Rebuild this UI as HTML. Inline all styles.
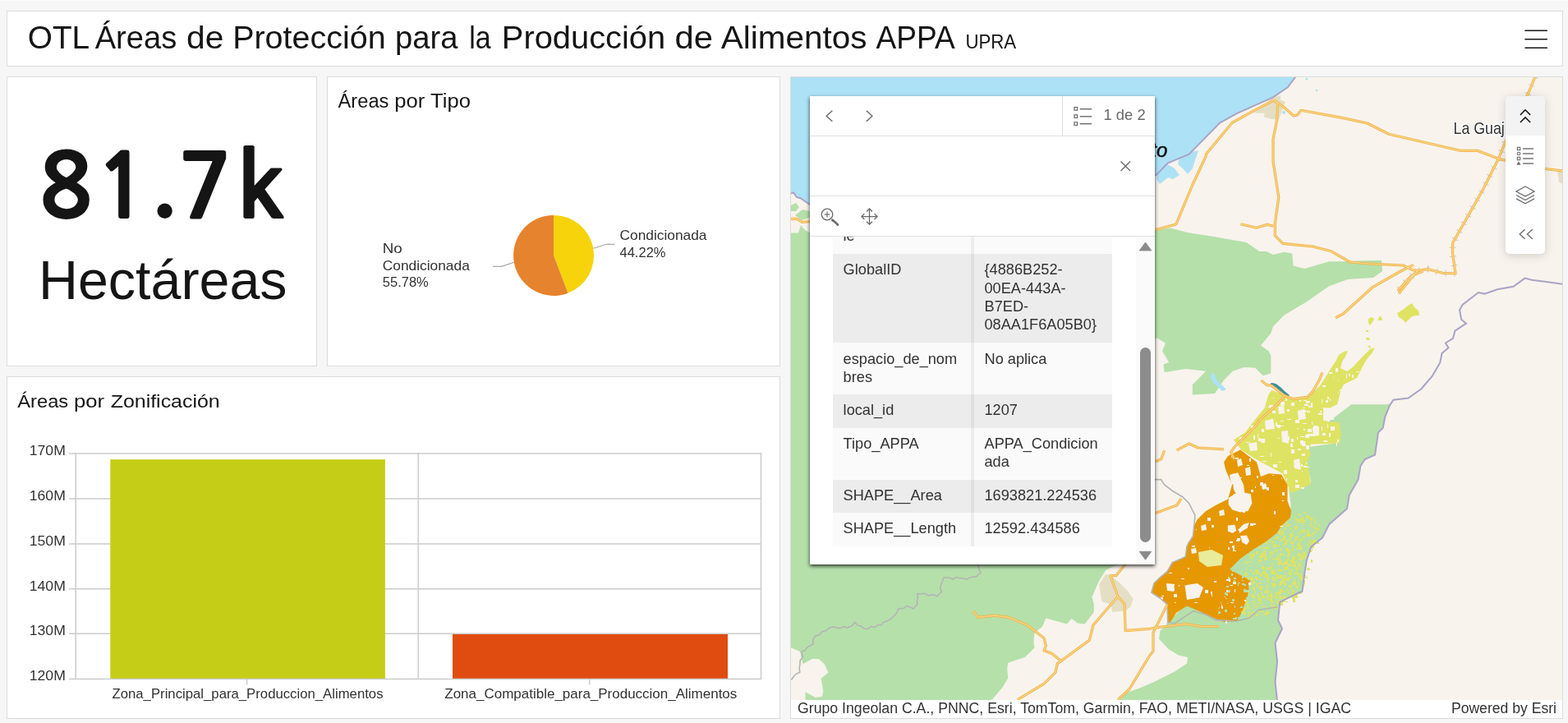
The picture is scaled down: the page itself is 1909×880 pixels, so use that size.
<!DOCTYPE html>
<html lang="es">
<head>
<meta charset="utf-8">
<title>OTL Áreas de Protección para la Producción de Alimentos APPA</title>
<style>
*{box-sizing:border-box;margin:0;padding:0}
html,body{width:1909px;height:880px;overflow:hidden}
body{position:relative;background:#f6f6f6;font-family:"Liberation Sans",Arial,sans-serif;color:#151515}
.topline{position:absolute;left:0;top:0;width:1909px;height:1px;background:#fcfcfc}
.panel{position:absolute;background:#fff;border:1px solid #dcdcdc}
.abs{position:absolute;white-space:nowrap}
#hdr{left:8px;top:13px;width:1895px;height:68px}
#kpi{left:8px;top:93px;width:378px;height:353px}
#pie{left:398px;top:93px;width:552px;height:353px}
#bar{left:8px;top:458px;width:942px;height:417px}
#map{left:962px;top:93px;width:941px;height:782px;overflow:hidden;background:#f8f3ed}
.ttl{font-size:24.6px;color:#151515;line-height:1}
svg text{font-family:"Liberation Sans",Arial,sans-serif}
</style>
</head>
<body>
<div class="topline"></div>

<!-- HEADER -->
<div class="panel" id="hdr"></div>
<svg class="abs" style="left:9px;top:14px" width="1893" height="66" viewBox="9 14 1893 66">
  <text y="59" font-size="39.1" fill="#151515"><tspan x="33.73" textLength="73.99" lengthAdjust="spacingAndGlyphs">OTL</tspan> <tspan x="115.7" textLength="99.53" lengthAdjust="spacingAndGlyphs">Áreas</tspan> <tspan x="226.96" textLength="45.35" lengthAdjust="spacingAndGlyphs">de</tspan> <tspan x="283.17" textLength="186.48" lengthAdjust="spacingAndGlyphs">Protección</tspan> <tspan x="481.04" textLength="76.5" lengthAdjust="spacingAndGlyphs">para</tspan> <tspan x="571.26" textLength="26.4" lengthAdjust="spacingAndGlyphs">la</tspan> <tspan x="610.84" textLength="199.33" lengthAdjust="spacingAndGlyphs">Producción</tspan> <tspan x="821.53" textLength="46.53" lengthAdjust="spacingAndGlyphs">de</tspan> <tspan x="877.8" textLength="177.76" lengthAdjust="spacingAndGlyphs">Alimentos</tspan> <tspan x="1066.6" textLength="96.26" lengthAdjust="spacingAndGlyphs">APPA</tspan></text>
  <text x="1175.4" y="58.7" font-size="23.3" fill="#151515" textLength="61.8" lengthAdjust="spacingAndGlyphs">UPRA</text>
  <g stroke="#151515" stroke-width="1.6" stroke-linecap="round">
    <line x1="1857" y1="37.3" x2="1883.3" y2="37.3"/>
    <line x1="1857" y1="47.7" x2="1883.3" y2="47.7"/>
    <line x1="1857" y1="58.2" x2="1883.3" y2="58.2"/>
  </g>
</svg>

<!-- KPI -->
<div class="panel" id="kpi"></div>
<svg class="abs" style="left:9px;top:94px" width="376" height="351" viewBox="9 94 376 351">
  <text x="47.85 116.1 183.65 217.35 290.05" y="264.5 264.5 257.5 264.5 264.5" font-size="107" font-weight="bold" fill="#151515" stroke="#151515" stroke-width="2" stroke-linejoin="round" style="font-family:NanumGothic,'Liberation Sans',sans-serif">81.7k</text>
  <text x="47" y="363.8" font-size="66" fill="#151515" textLength="302.5" lengthAdjust="spacingAndGlyphs">Hectáreas</text>
</svg>

<!-- PIE -->
<div class="panel" id="pie"></div>
<svg class="abs" style="left:399px;top:94px" width="550" height="351" viewBox="399 94 550 351">
  <text y="130.7" font-size="23" fill="#151515"><tspan x="411.6" textLength="61.81" lengthAdjust="spacingAndGlyphs">Áreas</tspan> <tspan x="480.29" textLength="37.03" lengthAdjust="spacingAndGlyphs">por</tspan> <tspan x="524.0" textLength="48.88" lengthAdjust="spacingAndGlyphs">Tipo</tspan></text>
  <path d="M674.1 310.9 L674.1 261.9 A49 49 0 0 1 691.5 356.7 Z" fill="#f6d30b"/>
  <path d="M674.1 310.9 L691.5 356.7 A49 49 0 1 1 674.1 261.9 Z" fill="#e5832e"/>
  <polyline points="722.3,302.2 738.6,297.3 748.2,297.3" fill="none" stroke="#a6a6a6" stroke-width="1.2"/>
  <polyline points="625.7,319.3 610.5,324.3 600.2,324.3" fill="none" stroke="#a6a6a6" stroke-width="1.2"/>
  <g font-size="16.4" fill="#323232">
    <text x="754.5" y="291.9" textLength="106" lengthAdjust="spacingAndGlyphs">Condicionada</text>
    <text x="754.5" y="312.9" textLength="56" lengthAdjust="spacingAndGlyphs">44.22%</text>
    <text x="465.8" y="307.7" textLength="24" lengthAdjust="spacingAndGlyphs">No</text>
    <text x="465.8" y="328.8" textLength="106" lengthAdjust="spacingAndGlyphs">Condicionada</text>
    <text x="465.8" y="348.8" textLength="56" lengthAdjust="spacingAndGlyphs">55.78%</text>
  </g>
</svg>

<!-- BAR -->
<div class="panel" id="bar"></div>
<svg class="abs" style="left:9px;top:459px" width="940" height="415" viewBox="9 459 940 415">
  <text y="495.7" font-size="22.8" fill="#151515"><tspan x="21.25" textLength="61.96" lengthAdjust="spacingAndGlyphs">Áreas</tspan> <tspan x="89.98" textLength="37.07" lengthAdjust="spacingAndGlyphs">por</tspan> <tspan x="134.7" textLength="133.04" lengthAdjust="spacingAndGlyphs">Zonificación</tspan></text>
  <g stroke="#cccccc" stroke-width="1.5" fill="none">
    <line x1="84" y1="552" x2="926.5" y2="552"/>
    <line x1="84" y1="607" x2="926.5" y2="607"/>
    <line x1="84" y1="662" x2="926.5" y2="662"/>
    <line x1="84" y1="716.8" x2="926.5" y2="716.8"/>
    <line x1="84" y1="771.3" x2="926.5" y2="771.3"/>
    <line x1="92.2" y1="551" x2="92.2" y2="827"/>
    <line x1="509.2" y1="551" x2="509.2" y2="827"/>
    <line x1="926.5" y1="551" x2="926.5" y2="827"/>
  </g>
  <rect x="134.3" y="559.2" width="334.6" height="267.3" fill="#c5cd16"/>
  <rect x="551" y="772" width="335" height="54.5" fill="#e04c10"/>
  <g stroke="#cccccc" stroke-width="1.5" fill="none">
    <line x1="84" y1="826.6" x2="926.5" y2="826.6"/>
    <line x1="300.6" y1="826" x2="300.6" y2="833.5"/>
    <line x1="717.7" y1="826" x2="717.7" y2="833.5"/>
  </g>
  <g font-size="16.3" fill="#323232">
    <text x="35.8" y="554" textLength="44" lengthAdjust="spacingAndGlyphs">170M</text>
    <text x="35.8" y="609" textLength="44" lengthAdjust="spacingAndGlyphs">160M</text>
    <text x="35.8" y="664" textLength="44" lengthAdjust="spacingAndGlyphs">150M</text>
    <text x="35.8" y="718.7" textLength="44" lengthAdjust="spacingAndGlyphs">140M</text>
    <text x="35.8" y="773.3" textLength="44" lengthAdjust="spacingAndGlyphs">130M</text>
    <text x="35.8" y="828" textLength="44" lengthAdjust="spacingAndGlyphs">120M</text>
  </g>
  <g font-size="16.8" fill="#323232">
    <text x="136.5" y="850" textLength="330" lengthAdjust="spacingAndGlyphs">Zona_Principal_para_Produccion_Alimentos</text>
    <text x="541.3" y="850" textLength="356" lengthAdjust="spacingAndGlyphs">Zona_Compatible_para_Produccion_Alimentos</text>
  </g>
</svg>

<!-- MAP -->
<div class="panel" id="map"></div>
<svg class="abs" style="left:963px;top:94px" width="939" height="780" viewBox="963 94 939 780">

<rect x="963" y="94" width="939" height="780" fill="#f8f3ed"/>
<polygon points="963,94 1577,94 1568,106 1550,118.4 1506.8,137.7 1485,149.5 1447.7,187.7 1421.6,198.6 1406.8,213.9 1300,225 986,249 980,245 975,241.5 970,240 966,234.5 963,235.5" fill="#ade1f5"/>
<polygon points="1410,205 1420,199 1430,205 1436,213 1428,218 1422,216 1412,224 1408,218" fill="#ade1f5"/>
<polygon points="1436,190 1450,185 1459,183 1455,195 1452,205 1446,212 1440,205 1434,200" fill="#ade1f5"/>
<circle cx="1591" cy="96" r="1.5" fill="#ade1f5"/><circle cx="1603" cy="110" r="1.3" fill="#ade1f5"/><circle cx="1563" cy="137" r="2" fill="#ade1f5"/>
<polygon points="963,283.6 972,283.6 975,274 980,280 986,283 1200,282 1408,280 1409,279.8 1425,277.5 1445.5,283 1479,288.2 1517.3,295 1533.6,306 1541.8,306 1550,310 1563.6,306.7 1573.2,308.6 1574.5,323.6 1588.2,327 1618.2,318.2 1640,318.2 1681,316.8 1682.2,329 1675.4,333.2 1656.3,334.5 1618.2,348.2 1590.9,367.3 1563.6,383.6 1550,397.3 1547.3,405.4 1535,420.4 1544.5,427.3 1547.3,432.7 1547.3,454.5 1537.7,457.3 1528.2,447.7 1514.5,446.9 1500.9,451.8 1490,462.7 1479,479 1451.8,480.4 1451.8,468.2 1468.2,451.8 1443.6,449 1417.7,453.2 1416.4,443.6 1423.2,441 1415,427.3 1419,417.7 1408.2,411 1400,420 1380,600 1363.3,686.9 1358.9,687.7 1346.2,694 1338.2,706.8 1329.4,726.7 1331.8,735.5 1331.8,745 1320.7,759.4 1312,758.6 1304.8,753 1298.8,759.5 1273.4,752.6 1268.8,763 1259.6,769.9 1258.4,781.4 1259.6,788.3 1248.1,799.8 1227.3,806.8 1226.2,813.7 1227.3,825.2 1220.4,836.7 1208.9,850.5 1205,853 963,853" fill="#b5e0aa"/>
<polygon points="1640,318 1682,317 1683,330 1672,338 1640,340" fill="#b5e0aa"/>
<polygon points="963,788.3 973.8,793 977.7,808.2 988.6,802 996.8,802 1003.7,808.2 1008.4,818.4 999.6,826 1002.3,841 1001,847.7 992.7,849 980.5,842.3 980.5,853 963,853" fill="#f8f3ed"/>
<polygon points="963,250 969,247 973,252 969,257 963,257" fill="#b5e0aa"/><polygon points="968,262 977,255 986,257 986,265 976,268" fill="#b5e0aa"/>
<polygon points="1645.4,492.3 1689,492.3 1691.8,491 1686.3,507.3 1683.6,521 1678,526.4 1674,553.6 1661.8,559 1656.3,567.3 1653.6,583.6 1642.7,602.7 1640,619 1618.2,638.2 1610,654.5 1596.3,665.4 1590.9,681.8 1588.2,698.2 1585.4,720 1580,722 1558.2,732.8 1557.5,740 1556,755 1561,765 1552.5,782.5 1555,805 1552.5,830 1555,853 1362,853 1372,843 1387.5,837.5 1405,830 1430,817.5 1445,807.5 1446,800 1435,797.5 1422.5,790 1411,777.5 1412.5,767.5 1419,762 1421,757.5 1440,740 1470,712 1500,688 1536.4,654.5 1571.8,616.4 1569,594.5 1596.3,586.4 1590.9,564.5 1593.6,544 1631.8,538.6 1618.2,512.7" fill="#b5e0aa"/>
<polygon points="1475,453 1479,456 1481,462 1486,467 1490,471 1493,474 1488,476 1484,472 1478,467 1474,460" fill="#ade1f5"/>
<polygon points="1527,137.7 1541,126.4 1547.7,119.5 1559,116 1559,121.8 1564.8,124 1561.4,133.2 1556.8,145.7 1545.5,144.5 1538.6,142.3 1539.8,137.7" fill="#e4dfc4"/>
<polygon points="1338.2,711.6 1346.2,698.9 1352.5,700.5 1362,708.4 1373.2,719.6 1379.6,729.1 1376.4,738.7 1370,743.5 1354.1,745 1352.5,735.5 1341.4,732.3" fill="#e4dfc4"/>
<rect x="1548" y="695" width="4" height="4" fill="#dfe363"/><rect x="1554" y="698" width="2" height="4" fill="#dfe363"/><rect x="1567" y="725" width="1" height="4" fill="#dfe363"/><rect x="1586" y="712" width="1" height="4" fill="#dfe363"/><rect x="1565" y="642" width="1" height="1" fill="#dfe363"/><rect x="1549" y="679" width="2" height="2" fill="#dfe363"/><rect x="1568" y="687" width="1" height="4" fill="#dfe363"/><rect x="1569" y="675" width="1" height="3" fill="#dfe363"/><rect x="1581" y="674" width="3" height="4" fill="#dfe363"/><rect x="1573" y="650" width="1" height="4" fill="#dfe363"/><rect x="1540" y="714" width="4" height="1" fill="#dfe363"/><rect x="1560" y="648" width="3" height="3" fill="#dfe363"/><rect x="1584" y="645" width="2" height="4" fill="#dfe363"/><rect x="1582" y="676" width="4" height="1" fill="#dfe363"/><rect x="1564" y="697" width="1" height="2" fill="#dfe363"/><rect x="1582" y="665" width="3" height="4" fill="#dfe363"/><rect x="1562" y="654" width="3" height="3" fill="#dfe363"/><rect x="1566" y="639" width="4" height="2" fill="#dfe363"/><rect x="1592" y="646" width="2" height="3" fill="#dfe363"/><rect x="1521" y="746" width="4" height="1" fill="#dfe363"/><rect x="1525" y="714" width="3" height="4" fill="#dfe363"/><rect x="1587" y="700" width="3" height="2" fill="#dfe363"/><rect x="1569" y="702" width="1" height="3" fill="#dfe363"/><rect x="1523" y="741" width="1" height="1" fill="#dfe363"/><rect x="1529" y="680" width="1" height="1" fill="#dfe363"/><rect x="1561" y="639" width="3" height="2" fill="#dfe363"/><rect x="1570" y="712" width="2" height="1" fill="#dfe363"/><rect x="1538" y="663" width="1" height="1" fill="#dfe363"/><rect x="1563" y="632" width="1" height="3" fill="#dfe363"/><rect x="1578" y="713" width="3" height="3" fill="#dfe363"/><rect x="1508" y="733" width="1" height="4" fill="#dfe363"/><rect x="1561" y="703" width="4" height="4" fill="#dfe363"/><rect x="1562" y="701" width="1" height="1" fill="#dfe363"/><rect x="1541" y="718" width="4" height="4" fill="#dfe363"/><rect x="1549" y="692" width="1" height="3" fill="#dfe363"/><rect x="1564" y="685" width="2" height="1" fill="#dfe363"/><rect x="1553" y="702" width="4" height="3" fill="#dfe363"/><rect x="1595" y="670" width="2" height="2" fill="#dfe363"/><rect x="1555" y="720" width="3" height="4" fill="#dfe363"/><rect x="1553" y="653" width="4" height="3" fill="#dfe363"/><rect x="1521" y="678" width="2" height="2" fill="#dfe363"/><rect x="1541" y="698" width="3" height="2" fill="#dfe363"/><rect x="1514" y="687" width="1" height="1" fill="#dfe363"/><rect x="1601" y="658" width="2" height="1" fill="#dfe363"/><rect x="1548" y="658" width="2" height="4" fill="#dfe363"/><rect x="1541" y="690" width="3" height="4" fill="#dfe363"/><rect x="1534" y="730" width="3" height="1" fill="#dfe363"/><rect x="1572" y="659" width="3" height="3" fill="#dfe363"/><rect x="1569" y="695" width="2" height="4" fill="#dfe363"/><rect x="1588" y="653" width="2" height="1" fill="#dfe363"/><rect x="1604" y="637" width="1" height="3" fill="#dfe363"/><rect x="1521" y="684" width="2" height="1" fill="#dfe363"/><rect x="1580" y="692" width="1" height="2" fill="#dfe363"/><rect x="1524" y="723" width="2" height="4" fill="#dfe363"/><rect x="1524" y="675" width="4" height="2" fill="#dfe363"/><rect x="1548" y="648" width="1" height="4" fill="#dfe363"/><rect x="1558" y="707" width="3" height="4" fill="#dfe363"/><rect x="1510" y="735" width="1" height="2" fill="#dfe363"/><rect x="1526" y="673" width="1" height="3" fill="#dfe363"/><rect x="1557" y="725" width="3" height="3" fill="#dfe363"/><rect x="1547" y="694" width="3" height="4" fill="#dfe363"/><rect x="1597" y="650" width="1" height="4" fill="#dfe363"/><rect x="1585" y="644" width="3" height="2" fill="#dfe363"/><rect x="1572" y="679" width="4" height="1" fill="#dfe363"/><rect x="1580" y="679" width="3" height="2" fill="#dfe363"/><rect x="1555" y="732" width="3" height="3" fill="#dfe363"/><rect x="1558" y="657" width="4" height="2" fill="#dfe363"/><rect x="1605" y="638" width="1" height="2" fill="#dfe363"/><rect x="1598" y="657" width="4" height="4" fill="#dfe363"/><rect x="1551" y="663" width="2" height="4" fill="#dfe363"/><rect x="1514" y="723" width="1" height="1" fill="#dfe363"/><rect x="1573" y="664" width="3" height="2" fill="#dfe363"/><rect x="1566" y="636" width="1" height="3" fill="#dfe363"/><rect x="1576" y="713" width="4" height="1" fill="#dfe363"/><rect x="1540" y="676" width="2" height="2" fill="#dfe363"/><rect x="1592" y="691" width="2" height="2" fill="#dfe363"/><rect x="1590" y="702" width="2" height="2" fill="#dfe363"/><rect x="1521" y="723" width="2" height="1" fill="#dfe363"/><rect x="1577" y="656" width="1" height="4" fill="#dfe363"/><rect x="1588" y="677" width="2" height="2" fill="#dfe363"/><rect x="1543" y="711" width="1" height="1" fill="#dfe363"/><rect x="1521" y="711" width="3" height="1" fill="#dfe363"/><rect x="1575" y="705" width="3" height="2" fill="#dfe363"/><rect x="1585" y="685" width="1" height="1" fill="#dfe363"/><rect x="1581" y="702" width="4" height="2" fill="#dfe363"/><rect x="1530" y="709" width="1" height="2" fill="#dfe363"/><rect x="1581" y="664" width="4" height="4" fill="#dfe363"/><rect x="1555" y="678" width="3" height="1" fill="#dfe363"/><rect x="1521" y="675" width="3" height="3" fill="#dfe363"/><rect x="1543" y="647" width="2" height="1" fill="#dfe363"/><rect x="1567" y="675" width="2" height="3" fill="#dfe363"/><rect x="1585" y="656" width="1" height="2" fill="#dfe363"/><rect x="1586" y="675" width="3" height="3" fill="#dfe363"/><rect x="1581" y="721" width="4" height="2" fill="#dfe363"/><rect x="1577" y="631" width="3" height="3" fill="#dfe363"/><rect x="1538" y="705" width="1" height="2" fill="#dfe363"/><rect x="1529" y="747" width="3" height="3" fill="#dfe363"/><rect x="1523" y="675" width="2" height="1" fill="#dfe363"/><rect x="1568" y="713" width="4" height="1" fill="#dfe363"/><rect x="1525" y="680" width="1" height="2" fill="#dfe363"/><rect x="1536" y="692" width="4" height="1" fill="#dfe363"/><rect x="1568" y="727" width="1" height="1" fill="#dfe363"/><rect x="1541" y="744" width="4" height="4" fill="#dfe363"/><rect x="1557" y="700" width="4" height="4" fill="#dfe363"/><rect x="1545" y="690" width="3" height="3" fill="#dfe363"/><rect x="1556" y="685" width="3" height="3" fill="#dfe363"/><rect x="1570" y="719" width="1" height="1" fill="#dfe363"/><rect x="1582" y="698" width="2" height="4" fill="#dfe363"/><rect x="1580" y="673" width="3" height="4" fill="#dfe363"/><rect x="1600" y="632" width="2" height="4" fill="#dfe363"/><rect x="1576" y="655" width="2" height="1" fill="#dfe363"/><rect x="1577" y="683" width="2" height="1" fill="#dfe363"/><rect x="1513" y="734" width="3" height="2" fill="#dfe363"/><rect x="1571" y="681" width="3" height="4" fill="#dfe363"/><rect x="1539" y="719" width="2" height="3" fill="#dfe363"/><rect x="1578" y="653" width="1" height="3" fill="#dfe363"/><rect x="1583" y="703" width="3" height="3" fill="#dfe363"/><rect x="1529" y="711" width="2" height="3" fill="#dfe363"/><rect x="1580" y="647" width="2" height="2" fill="#dfe363"/><rect x="1593" y="627" width="1" height="1" fill="#dfe363"/><rect x="1529" y="677" width="1" height="1" fill="#dfe363"/><rect x="1538" y="666" width="4" height="2" fill="#dfe363"/><rect x="1589" y="632" width="1" height="4" fill="#dfe363"/><rect x="1586" y="703" width="2" height="4" fill="#dfe363"/><rect x="1545" y="656" width="2" height="3" fill="#dfe363"/><rect x="1516" y="731" width="3" height="3" fill="#dfe363"/><rect x="1558" y="719" width="2" height="4" fill="#dfe363"/><rect x="1569" y="697" width="4" height="3" fill="#dfe363"/><rect x="1560" y="685" width="4" height="3" fill="#dfe363"/><rect x="1587" y="623" width="3" height="2" fill="#dfe363"/><rect x="1574" y="686" width="3" height="3" fill="#dfe363"/><rect x="1593" y="650" width="3" height="3" fill="#dfe363"/><rect x="1596" y="664" width="4" height="3" fill="#dfe363"/><rect x="1546" y="726" width="3" height="4" fill="#dfe363"/><rect x="1534" y="674" width="2" height="1" fill="#dfe363"/><rect x="1538" y="670" width="3" height="4" fill="#dfe363"/><rect x="1562" y="725" width="3" height="4" fill="#dfe363"/><rect x="1557" y="731" width="2" height="2" fill="#dfe363"/><rect x="1502" y="731" width="4" height="1" fill="#dfe363"/><rect x="1562" y="662" width="1" height="3" fill="#dfe363"/><rect x="1509" y="718" width="3" height="1" fill="#dfe363"/><rect x="1510" y="728" width="4" height="2" fill="#dfe363"/><rect x="1575" y="686" width="3" height="4" fill="#dfe363"/><rect x="1542" y="666" width="3" height="2" fill="#dfe363"/><rect x="1552" y="692" width="1" height="1" fill="#dfe363"/><rect x="1544" y="729" width="3" height="1" fill="#dfe363"/><rect x="1568" y="690" width="1" height="1" fill="#dfe363"/><rect x="1545" y="677" width="2" height="2" fill="#dfe363"/><rect x="1522" y="677" width="3" height="3" fill="#dfe363"/><rect x="1569" y="723" width="2" height="1" fill="#dfe363"/><rect x="1551" y="726" width="3" height="1" fill="#dfe363"/><rect x="1562" y="700" width="4" height="2" fill="#dfe363"/><rect x="1547" y="738" width="4" height="2" fill="#dfe363"/><rect x="1558" y="733" width="4" height="4" fill="#dfe363"/><rect x="1597" y="666" width="1" height="4" fill="#dfe363"/><rect x="1591" y="674" width="2" height="2" fill="#dfe363"/><rect x="1585" y="672" width="3" height="1" fill="#dfe363"/><rect x="1570" y="653" width="1" height="4" fill="#dfe363"/><rect x="1596" y="681" width="2" height="4" fill="#dfe363"/><rect x="1564" y="642" width="2" height="3" fill="#dfe363"/><rect x="1515" y="740" width="2" height="3" fill="#dfe363"/><rect x="1561" y="645" width="2" height="2" fill="#dfe363"/><rect x="1587" y="633" width="3" height="1" fill="#dfe363"/><rect x="1509" y="719" width="3" height="1" fill="#dfe363"/><rect x="1584" y="676" width="1" height="4" fill="#dfe363"/><rect x="1522" y="693" width="4" height="2" fill="#dfe363"/><rect x="1534" y="675" width="3" height="4" fill="#dfe363"/><rect x="1571" y="631" width="1" height="2" fill="#dfe363"/><rect x="1588" y="707" width="1" height="4" fill="#dfe363"/><rect x="1575" y="684" width="3" height="1" fill="#dfe363"/><rect x="1522" y="702" width="3" height="4" fill="#dfe363"/><rect x="1559" y="633" width="2" height="2" fill="#dfe363"/><rect x="1533" y="658" width="4" height="3" fill="#dfe363"/><rect x="1547" y="672" width="1" height="2" fill="#dfe363"/><rect x="1566" y="639" width="2" height="2" fill="#dfe363"/><rect x="1549" y="714" width="1" height="2" fill="#dfe363"/><rect x="1546" y="722" width="3" height="4" fill="#dfe363"/><rect x="1598" y="640" width="2" height="2" fill="#dfe363"/><rect x="1587" y="672" width="3" height="4" fill="#dfe363"/><rect x="1566" y="717" width="3" height="2" fill="#dfe363"/><rect x="1570" y="701" width="1" height="3" fill="#dfe363"/><rect x="1535" y="666" width="4" height="1" fill="#dfe363"/><rect x="1559" y="649" width="3" height="3" fill="#dfe363"/><rect x="1587" y="701" width="2" height="3" fill="#dfe363"/><rect x="1558" y="668" width="2" height="2" fill="#dfe363"/><rect x="1521" y="745" width="2" height="1" fill="#dfe363"/><rect x="1544" y="665" width="1" height="3" fill="#dfe363"/><rect x="1528" y="737" width="4" height="2" fill="#dfe363"/><rect x="1525" y="696" width="1" height="3" fill="#dfe363"/><rect x="1518" y="719" width="3" height="2" fill="#dfe363"/><rect x="1513" y="729" width="3" height="3" fill="#dfe363"/><rect x="1526" y="697" width="2" height="2" fill="#dfe363"/><rect x="1563" y="727" width="4" height="1" fill="#dfe363"/><rect x="1543" y="724" width="2" height="3" fill="#dfe363"/><rect x="1568" y="721" width="2" height="2" fill="#dfe363"/><rect x="1556" y="637" width="4" height="2" fill="#dfe363"/><rect x="1526" y="743" width="1" height="1" fill="#dfe363"/><rect x="1576" y="724" width="4" height="4" fill="#dfe363"/><rect x="1564" y="683" width="4" height="4" fill="#dfe363"/><rect x="1580" y="685" width="4" height="4" fill="#dfe363"/><rect x="1587" y="637" width="1" height="3" fill="#dfe363"/><rect x="1556" y="678" width="1" height="3" fill="#dfe363"/><rect x="1596" y="660" width="4" height="4" fill="#dfe363"/><rect x="1563" y="720" width="3" height="1" fill="#dfe363"/><rect x="1526" y="732" width="2" height="4" fill="#dfe363"/><rect x="1511" y="740" width="3" height="4" fill="#dfe363"/><rect x="1592" y="670" width="4" height="2" fill="#dfe363"/><rect x="1524" y="719" width="1" height="1" fill="#dfe363"/><rect x="1510" y="725" width="1" height="4" fill="#dfe363"/><rect x="1532" y="664" width="1" height="4" fill="#dfe363"/><rect x="1542" y="668" width="2" height="1" fill="#dfe363"/><rect x="1532" y="681" width="3" height="3" fill="#dfe363"/><rect x="1593" y="648" width="1" height="2" fill="#dfe363"/><rect x="1533" y="734" width="4" height="1" fill="#dfe363"/><rect x="1518" y="736" width="2" height="2" fill="#dfe363"/><rect x="1520" y="736" width="1" height="1" fill="#dfe363"/><rect x="1532" y="728" width="3" height="4" fill="#dfe363"/><rect x="1576" y="640" width="4" height="4" fill="#dfe363"/><rect x="1533" y="714" width="2" height="3" fill="#dfe363"/><rect x="1570" y="725" width="3" height="1" fill="#dfe363"/><rect x="1563" y="652" width="3" height="2" fill="#dfe363"/><rect x="1571" y="658" width="1" height="4" fill="#dfe363"/><rect x="1556" y="691" width="1" height="1" fill="#dfe363"/><rect x="1564" y="659" width="3" height="4" fill="#dfe363"/><rect x="1585" y="633" width="3" height="2" fill="#dfe363"/><rect x="1558" y="646" width="2" height="1" fill="#dfe363"/><rect x="1595" y="630" width="1" height="3" fill="#dfe363"/><rect x="1534" y="685" width="1" height="3" fill="#dfe363"/><rect x="1554" y="732" width="2" height="2" fill="#dfe363"/><rect x="1571" y="693" width="3" height="2" fill="#dfe363"/><rect x="1528" y="693" width="4" height="3" fill="#dfe363"/><rect x="1576" y="696" width="2" height="3" fill="#dfe363"/><rect x="1553" y="679" width="4" height="3" fill="#dfe363"/><rect x="1591" y="626" width="1" height="2" fill="#dfe363"/><rect x="1560" y="693" width="2" height="2" fill="#dfe363"/><rect x="1574" y="729" width="3" height="4" fill="#dfe363"/><rect x="1509" y="729" width="2" height="4" fill="#dfe363"/><rect x="1583" y="630" width="4" height="4" fill="#dfe363"/><rect x="1552" y="721" width="2" height="2" fill="#dfe363"/><rect x="1579" y="690" width="1" height="1" fill="#dfe363"/><rect x="1526" y="738" width="2" height="1" fill="#dfe363"/><rect x="1542" y="661" width="4" height="1" fill="#dfe363"/><rect x="1565" y="660" width="1" height="2" fill="#dfe363"/><rect x="1578" y="696" width="2" height="4" fill="#dfe363"/><rect x="1526" y="725" width="2" height="4" fill="#dfe363"/><rect x="1550" y="662" width="4" height="4" fill="#dfe363"/><rect x="1591" y="649" width="4" height="4" fill="#dfe363"/><rect x="1508" y="712" width="3" height="3" fill="#dfe363"/><rect x="1566" y="689" width="3" height="4" fill="#dfe363"/><rect x="1560" y="706" width="2" height="3" fill="#dfe363"/><rect x="1577" y="723" width="2" height="2" fill="#dfe363"/><rect x="1594" y="664" width="1" height="3" fill="#dfe363"/><rect x="1542" y="653" width="1" height="2" fill="#dfe363"/><rect x="1516" y="699" width="1" height="2" fill="#dfe363"/><rect x="1533" y="677" width="2" height="3" fill="#dfe363"/><rect x="1533" y="681" width="4" height="2" fill="#dfe363"/><rect x="1557" y="680" width="2" height="4" fill="#dfe363"/><rect x="1555" y="668" width="1" height="3" fill="#dfe363"/><rect x="1539" y="701" width="2" height="1" fill="#dfe363"/><rect x="1581" y="719" width="1" height="2" fill="#dfe363"/><rect x="1559" y="668" width="1" height="3" fill="#dfe363"/><rect x="1525" y="704" width="1" height="4" fill="#dfe363"/><rect x="1530" y="713" width="2" height="2" fill="#dfe363"/><rect x="1598" y="648" width="2" height="3" fill="#dfe363"/><rect x="1571" y="653" width="1" height="3" fill="#dfe363"/><rect x="1551" y="655" width="3" height="1" fill="#dfe363"/><rect x="1596" y="638" width="1" height="4" fill="#dfe363"/><rect x="1529" y="671" width="3" height="4" fill="#dfe363"/><rect x="1534" y="671" width="3" height="3" fill="#dfe363"/><rect x="1568" y="672" width="3" height="3" fill="#dfe363"/><rect x="1503" y="714" width="2" height="1" fill="#dfe363"/><rect x="1566" y="703" width="4" height="4" fill="#dfe363"/><rect x="1549" y="680" width="4" height="1" fill="#dfe363"/><rect x="1585" y="711" width="3" height="3" fill="#dfe363"/><rect x="1552" y="683" width="1" height="2" fill="#dfe363"/><rect x="1564" y="657" width="3" height="2" fill="#dfe363"/><rect x="1558" y="673" width="2" height="4" fill="#dfe363"/><rect x="1508" y="729" width="3" height="3" fill="#dfe363"/><rect x="1537" y="737" width="3" height="2" fill="#dfe363"/><rect x="1574" y="711" width="2" height="2" fill="#dfe363"/><rect x="1517" y="703" width="4" height="3" fill="#dfe363"/><rect x="1539" y="659" width="4" height="2" fill="#dfe363"/><rect x="1569" y="669" width="2" height="2" fill="#dfe363"/><rect x="1533" y="732" width="4" height="1" fill="#dfe363"/><rect x="1517" y="735" width="4" height="1" fill="#dfe363"/><rect x="1537" y="674" width="4" height="3" fill="#dfe363"/><rect x="1576" y="655" width="3" height="2" fill="#dfe363"/><rect x="1535" y="721" width="2" height="4" fill="#dfe363"/><rect x="1568" y="638" width="3" height="2" fill="#dfe363"/><rect x="1571" y="652" width="2" height="1" fill="#dfe363"/><rect x="1550" y="712" width="2" height="3" fill="#dfe363"/><rect x="1573" y="677" width="4" height="4" fill="#dfe363"/><rect x="1505" y="715" width="1" height="1" fill="#dfe363"/><rect x="1557" y="726" width="4" height="3" fill="#dfe363"/><rect x="1591" y="644" width="1" height="3" fill="#dfe363"/><rect x="1547" y="735" width="3" height="2" fill="#dfe363"/><rect x="1542" y="702" width="2" height="4" fill="#dfe363"/><rect x="1572" y="650" width="3" height="2" fill="#dfe363"/><rect x="1547" y="730" width="3" height="4" fill="#dfe363"/><rect x="1594" y="657" width="2" height="3" fill="#dfe363"/><rect x="1566" y="658" width="2" height="1" fill="#dfe363"/><rect x="1551" y="670" width="3" height="1" fill="#dfe363"/><rect x="1581" y="709" width="1" height="2" fill="#dfe363"/><rect x="1537" y="695" width="1" height="2" fill="#dfe363"/><rect x="1558" y="707" width="3" height="3" fill="#dfe363"/><rect x="1526" y="727" width="1" height="2" fill="#dfe363"/><rect x="1557" y="710" width="3" height="3" fill="#dfe363"/><rect x="1594" y="630" width="3" height="1" fill="#dfe363"/><rect x="1581" y="656" width="2" height="4" fill="#dfe363"/><rect x="1542" y="726" width="1" height="4" fill="#dfe363"/><rect x="1543" y="714" width="3" height="1" fill="#dfe363"/><rect x="1534" y="716" width="3" height="3" fill="#dfe363"/><rect x="1566" y="680" width="3" height="3" fill="#dfe363"/><rect x="1507" y="707" width="1" height="3" fill="#dfe363"/><rect x="1535" y="718" width="2" height="1" fill="#dfe363"/><rect x="1579" y="693" width="2" height="2" fill="#dfe363"/><rect x="1581" y="625" width="2" height="3" fill="#dfe363"/><rect x="1507" y="699" width="3" height="4" fill="#dfe363"/><rect x="1553" y="723" width="2" height="3" fill="#dfe363"/><rect x="1582" y="690" width="1" height="2" fill="#dfe363"/><rect x="1577" y="708" width="1" height="2" fill="#dfe363"/><rect x="1565" y="667" width="4" height="4" fill="#dfe363"/><rect x="1554" y="696" width="1" height="1" fill="#dfe363"/><rect x="1548" y="709" width="4" height="4" fill="#dfe363"/><rect x="1553" y="671" width="1" height="1" fill="#dfe363"/><rect x="1556" y="681" width="3" height="1" fill="#dfe363"/><rect x="1516" y="683" width="3" height="3" fill="#dfe363"/><rect x="1520" y="683" width="4" height="1" fill="#dfe363"/><rect x="1592" y="638" width="4" height="1" fill="#dfe363"/><rect x="1525" y="731" width="2" height="1" fill="#dfe363"/><rect x="1585" y="689" width="3" height="1" fill="#dfe363"/><rect x="1536" y="689" width="3" height="4" fill="#dfe363"/><rect x="1545" y="686" width="2" height="1" fill="#dfe363"/><rect x="1506" y="735" width="1" height="2" fill="#dfe363"/><rect x="1586" y="645" width="3" height="1" fill="#dfe363"/><rect x="1544" y="702" width="1" height="4" fill="#dfe363"/><rect x="1596" y="631" width="2" height="3" fill="#dfe363"/><rect x="1521" y="709" width="4" height="4" fill="#dfe363"/><rect x="1533" y="704" width="3" height="2" fill="#dfe363"/><rect x="1574" y="645" width="2" height="2" fill="#dfe363"/><rect x="1574" y="683" width="2" height="3" fill="#dfe363"/><rect x="1512" y="744" width="3" height="3" fill="#dfe363"/><rect x="1573" y="718" width="3" height="3" fill="#dfe363"/><rect x="1582" y="648" width="1" height="3" fill="#dfe363"/><rect x="1545" y="729" width="4" height="3" fill="#dfe363"/><rect x="1548" y="688" width="1" height="3" fill="#dfe363"/><rect x="1554" y="676" width="4" height="1" fill="#dfe363"/><rect x="1530" y="735" width="3" height="1" fill="#dfe363"/><rect x="1572" y="681" width="4" height="4" fill="#dfe363"/><rect x="1521" y="676" width="2" height="4" fill="#dfe363"/><rect x="1568" y="670" width="3" height="3" fill="#dfe363"/><rect x="1562" y="708" width="3" height="3" fill="#dfe363"/><rect x="1540" y="699" width="3" height="4" fill="#dfe363"/><rect x="1545" y="666" width="1" height="1" fill="#dfe363"/><rect x="1548" y="649" width="3" height="1" fill="#dfe363"/><rect x="1540" y="716" width="3" height="1" fill="#dfe363"/><rect x="1571" y="642" width="1" height="3" fill="#dfe363"/><rect x="1518" y="688" width="4" height="1" fill="#dfe363"/><rect x="1588" y="706" width="1" height="1" fill="#dfe363"/><rect x="1543" y="707" width="2" height="2" fill="#dfe363"/><rect x="1553" y="730" width="4" height="1" fill="#dfe363"/><rect x="1579" y="633" width="2" height="3" fill="#dfe363"/><rect x="1550" y="737" width="4" height="4" fill="#dfe363"/><rect x="1539" y="730" width="1" height="1" fill="#dfe363"/><rect x="1537" y="692" width="1" height="1" fill="#dfe363"/><rect x="1532" y="688" width="1" height="1" fill="#dfe363"/><rect x="1560" y="639" width="1" height="3" fill="#dfe363"/><rect x="1531" y="723" width="2" height="4" fill="#dfe363"/><rect x="1562" y="644" width="1" height="4" fill="#dfe363"/><rect x="1515" y="739" width="2" height="2" fill="#dfe363"/><rect x="1543" y="702" width="1" height="4" fill="#dfe363"/><rect x="1587" y="652" width="1" height="4" fill="#dfe363"/><rect x="1517" y="691" width="1" height="4" fill="#dfe363"/><rect x="1590" y="628" width="4" height="3" fill="#dfe363"/><rect x="1512" y="741" width="3" height="4" fill="#dfe363"/><rect x="1559" y="640" width="1" height="4" fill="#dfe363"/><rect x="1566" y="657" width="3" height="2" fill="#dfe363"/><rect x="1539" y="678" width="4" height="4" fill="#dfe363"/><rect x="1538" y="678" width="4" height="1" fill="#dfe363"/><rect x="1505" y="731" width="1" height="2" fill="#dfe363"/><rect x="1556" y="693" width="4" height="2" fill="#dfe363"/><rect x="1572" y="715" width="1" height="3" fill="#dfe363"/><rect x="1538" y="746" width="4" height="1" fill="#dfe363"/><rect x="1540" y="699" width="1" height="1" fill="#dfe363"/><rect x="1573" y="668" width="2" height="3" fill="#dfe363"/><rect x="1589" y="649" width="1" height="3" fill="#dfe363"/><rect x="1580" y="667" width="1" height="2" fill="#dfe363"/><rect x="1584" y="677" width="3" height="4" fill="#dfe363"/><rect x="1510" y="696" width="1" height="1" fill="#dfe363"/><rect x="1542" y="651" width="3" height="3" fill="#dfe363"/><rect x="1552" y="673" width="1" height="2" fill="#dfe363"/><rect x="1580" y="697" width="1" height="4" fill="#dfe363"/><rect x="1544" y="710" width="1" height="2" fill="#dfe363"/><rect x="1583" y="679" width="2" height="4" fill="#dfe363"/><rect x="1580" y="710" width="1" height="4" fill="#dfe363"/><rect x="1534" y="718" width="1" height="1" fill="#dfe363"/><rect x="1575" y="674" width="1" height="2" fill="#dfe363"/><rect x="1515" y="745" width="2" height="3" fill="#dfe363"/><rect x="1546" y="671" width="4" height="4" fill="#dfe363"/><rect x="1546" y="726" width="4" height="1" fill="#dfe363"/><rect x="1558" y="733" width="3" height="2" fill="#dfe363"/><rect x="1502" y="729" width="3" height="4" fill="#dfe363"/><rect x="1563" y="690" width="4" height="4" fill="#dfe363"/><rect x="1561" y="731" width="3" height="2" fill="#dfe363"/><rect x="1535" y="713" width="2" height="3" fill="#dfe363"/><rect x="1537" y="675" width="1" height="3" fill="#dfe363"/><rect x="1523" y="740" width="1" height="2" fill="#dfe363"/><rect x="1548" y="685" width="2" height="2" fill="#dfe363"/><rect x="1580" y="635" width="3" height="2" fill="#dfe363"/><rect x="1504" y="713" width="2" height="4" fill="#dfe363"/><rect x="1585" y="635" width="2" height="2" fill="#dfe363"/><rect x="1578" y="667" width="2" height="2" fill="#dfe363"/><rect x="1539" y="746" width="3" height="3" fill="#dfe363"/><rect x="1518" y="738" width="3" height="3" fill="#dfe363"/><rect x="1551" y="657" width="3" height="3" fill="#dfe363"/><rect x="1600" y="642" width="4" height="2" fill="#dfe363"/><rect x="1587" y="693" width="2" height="1" fill="#dfe363"/><rect x="1558" y="717" width="3" height="3" fill="#dfe363"/><rect x="1506" y="744" width="3" height="2" fill="#dfe363"/><rect x="1551" y="711" width="3" height="2" fill="#dfe363"/><rect x="1560" y="667" width="2" height="1" fill="#dfe363"/><rect x="1601" y="636" width="1" height="3" fill="#dfe363"/><rect x="1596" y="635" width="1" height="2" fill="#dfe363"/><rect x="1592" y="630" width="1" height="2" fill="#dfe363"/><rect x="1556" y="646" width="3" height="4" fill="#dfe363"/><rect x="1520" y="712" width="1" height="1" fill="#dfe363"/><rect x="1536" y="713" width="2" height="2" fill="#dfe363"/><rect x="1563" y="711" width="3" height="2" fill="#dfe363"/><rect x="1512" y="735" width="1" height="4" fill="#dfe363"/><rect x="1503" y="730" width="1" height="1" fill="#dfe363"/><rect x="1523" y="673" width="2" height="4" fill="#dfe363"/><rect x="1542" y="739" width="2" height="3" fill="#dfe363"/><rect x="1577" y="690" width="3" height="4" fill="#dfe363"/><rect x="1544" y="648" width="2" height="3" fill="#dfe363"/><rect x="1548" y="651" width="3" height="2" fill="#dfe363"/><rect x="1525" y="707" width="3" height="3" fill="#dfe363"/><rect x="1554" y="718" width="2" height="1" fill="#dfe363"/><rect x="1584" y="692" width="1" height="2" fill="#dfe363"/><rect x="1559" y="640" width="3" height="1" fill="#dfe363"/><rect x="1536" y="725" width="4" height="3" fill="#dfe363"/><rect x="1597" y="629" width="1" height="4" fill="#dfe363"/><rect x="1517" y="686" width="2" height="3" fill="#dfe363"/><rect x="1536" y="743" width="2" height="3" fill="#dfe363"/><rect x="1600" y="647" width="2" height="2" fill="#dfe363"/><rect x="1529" y="744" width="1" height="2" fill="#dfe363"/><rect x="1577" y="710" width="1" height="3" fill="#dfe363"/><rect x="1534" y="698" width="3" height="4" fill="#dfe363"/><rect x="1581" y="690" width="1" height="1" fill="#dfe363"/><rect x="1520" y="747" width="1" height="3" fill="#dfe363"/><rect x="1551" y="738" width="4" height="3" fill="#dfe363"/><rect x="1564" y="732" width="4" height="1" fill="#dfe363"/><rect x="1520" y="745" width="1" height="4" fill="#dfe363"/><rect x="1581" y="674" width="1" height="3" fill="#dfe363"/><rect x="1578" y="650" width="1" height="1" fill="#dfe363"/><rect x="1523" y="726" width="4" height="1" fill="#dfe363"/><rect x="1549" y="646" width="1" height="2" fill="#dfe363"/><rect x="1528" y="702" width="3" height="4" fill="#dfe363"/><rect x="1527" y="719" width="2" height="3" fill="#dfe363"/><rect x="1515" y="697" width="4" height="4" fill="#dfe363"/><rect x="1557" y="682" width="3" height="4" fill="#dfe363"/><rect x="1525" y="744" width="2" height="4" fill="#dfe363"/><rect x="1577" y="653" width="4" height="2" fill="#dfe363"/><rect x="1574" y="666" width="1" height="1" fill="#dfe363"/><rect x="1537" y="695" width="4" height="4" fill="#dfe363"/><rect x="1573" y="708" width="4" height="3" fill="#dfe363"/><rect x="1553" y="732" width="4" height="1" fill="#dfe363"/><rect x="1551" y="705" width="1" height="3" fill="#dfe363"/><rect x="1562" y="674" width="1" height="3" fill="#dfe363"/><rect x="1521" y="704" width="1" height="4" fill="#dfe363"/><rect x="1508" y="734" width="2" height="3" fill="#dfe363"/><rect x="1533" y="709" width="3" height="2" fill="#dfe363"/><rect x="1569" y="712" width="4" height="3" fill="#dfe363"/><rect x="1573" y="726" width="3" height="3" fill="#dfe363"/><rect x="1585" y="645" width="4" height="3" fill="#dfe363"/><rect x="1576" y="628" width="1" height="3" fill="#dfe363"/><rect x="1550" y="706" width="4" height="1" fill="#dfe363"/><rect x="1603" y="643" width="3" height="3" fill="#dfe363"/><rect x="1592" y="662" width="2" height="3" fill="#dfe363"/><rect x="1513" y="716" width="1" height="4" fill="#dfe363"/><rect x="1568" y="686" width="4" height="3" fill="#dfe363"/><rect x="1504" y="737" width="4" height="2" fill="#dfe363"/><rect x="1524" y="702" width="1" height="2" fill="#dfe363"/><rect x="1555" y="663" width="3" height="2" fill="#dfe363"/><rect x="1582" y="635" width="3" height="1" fill="#dfe363"/><rect x="1597" y="660" width="3" height="4" fill="#dfe363"/><rect x="1582" y="665" width="3" height="2" fill="#dfe363"/><rect x="1555" y="685" width="1" height="1" fill="#dfe363"/><rect x="1591" y="692" width="4" height="2" fill="#dfe363"/><rect x="1531" y="743" width="3" height="2" fill="#dfe363"/><rect x="1546" y="674" width="3" height="1" fill="#dfe363"/><rect x="1602" y="660" width="4" height="2" fill="#dfe363"/><rect x="1543" y="653" width="4" height="1" fill="#dfe363"/><rect x="1573" y="721" width="3" height="4" fill="#dfe363"/><rect x="1520" y="722" width="1" height="2" fill="#dfe363"/><rect x="1519" y="748" width="3" height="3" fill="#dfe363"/><rect x="1581" y="706" width="1" height="4" fill="#dfe363"/><rect x="1601" y="647" width="3" height="1" fill="#dfe363"/><rect x="1549" y="702" width="2" height="4" fill="#dfe363"/><rect x="1553" y="724" width="2" height="4" fill="#dfe363"/><rect x="1586" y="653" width="4" height="1" fill="#dfe363"/><rect x="1509" y="695" width="2" height="1" fill="#dfe363"/><rect x="1560" y="674" width="4" height="1" fill="#dfe363"/><rect x="1579" y="717" width="1" height="2" fill="#dfe363"/><rect x="1552" y="698" width="3" height="1" fill="#dfe363"/><rect x="1561" y="718" width="2" height="3" fill="#dfe363"/><rect x="1570" y="649" width="4" height="3" fill="#dfe363"/><rect x="1509" y="718" width="4" height="4" fill="#dfe363"/><rect x="1572" y="688" width="4" height="1" fill="#dfe363"/><rect x="1579" y="661" width="4" height="4" fill="#dfe363"/><rect x="1564" y="633" width="3" height="4" fill="#dfe363"/><rect x="1581" y="656" width="4" height="2" fill="#dfe363"/><rect x="1592" y="661" width="2" height="4" fill="#dfe363"/><rect x="1541" y="699" width="3" height="3" fill="#dfe363"/><rect x="1561" y="655" width="4" height="2" fill="#dfe363"/><rect x="1605" y="640" width="3" height="1" fill="#dfe363"/><rect x="1529" y="696" width="4" height="3" fill="#dfe363"/><rect x="1518" y="703" width="4" height="4" fill="#dfe363"/><rect x="1531" y="727" width="4" height="2" fill="#dfe363"/><rect x="1549" y="694" width="4" height="1" fill="#dfe363"/><rect x="1580" y="632" width="3" height="2" fill="#dfe363"/>
<polygon points="1548.3,474.8 1563.4,481.3 1576.4,485.6 1593.7,481.3 1600,476 1606.6,470 1612,462 1618,452 1622,446 1626,440 1630,432 1636,428 1641,427 1638,434 1634,440 1632,448 1640,452 1648,446 1655,438 1662,431 1668,425 1673.6,423 1671,429 1665,436 1660,444 1656,452 1652,460 1644,464 1636,468 1632.5,474.8 1628.2,492 1619.6,496.4 1611,500.7 1611,511.5 1619.6,513.7 1630.4,513.7 1632.5,526.6 1631.5,539.6 1595.8,540.7 1593.7,548.2 1595.8,552.5 1591.5,561.2 1595.8,589.3 1582.9,595.7 1572,600 1561.3,576.3 1533.2,561.2 1511.6,548.2 1501.9,535.3 1515.9,526.6 1528.9,509.4 1539.7,496.4 1544,481.3" fill="#dfe363"/>
<rect x="1583" y="539" width="3" height="2" fill="#f8f3ed"/><rect x="1585" y="537" width="4" height="5" fill="#f8f3ed"/><rect x="1565" y="483" width="2" height="1" fill="#f8f3ed"/><rect x="1590" y="568" width="4" height="1" fill="#f8f3ed"/><rect x="1556" y="533" width="2" height="1" fill="#f8f3ed"/><rect x="1597" y="513" width="1" height="4" fill="#f8f3ed"/><rect x="1583" y="531" width="5" height="1" fill="#f8f3ed"/><rect x="1559" y="489" width="5" height="5" fill="#f8f3ed"/><rect x="1549" y="500" width="4" height="3" fill="#f8f3ed"/><rect x="1590" y="488" width="3" height="3" fill="#f8f3ed"/><rect x="1580" y="546" width="4" height="2" fill="#f8f3ed"/><rect x="1534" y="555" width="5" height="1" fill="#f8f3ed"/><rect x="1639" y="455" width="1" height="5" fill="#f8f3ed"/><rect x="1509" y="533" width="3" height="5" fill="#f8f3ed"/><rect x="1557" y="562" width="3" height="1" fill="#f8f3ed"/><rect x="1541" y="516" width="4" height="4" fill="#f8f3ed"/><rect x="1610" y="469" width="4" height="2" fill="#f8f3ed"/><rect x="1579" y="532" width="1" height="3" fill="#f8f3ed"/><rect x="1536" y="522" width="3" height="4" fill="#f8f3ed"/><rect x="1620" y="519" width="5" height="5" fill="#f8f3ed"/><rect x="1523" y="518" width="4" height="5" fill="#f8f3ed"/><rect x="1544" y="495" width="3" height="1" fill="#f8f3ed"/><rect x="1586" y="502" width="2" height="1" fill="#f8f3ed"/><rect x="1616" y="483" width="2" height="3" fill="#f8f3ed"/><rect x="1553" y="514" width="2" height="5" fill="#f8f3ed"/><rect x="1588" y="492" width="5" height="2" fill="#f8f3ed"/><rect x="1581" y="562" width="1" height="2" fill="#f8f3ed"/><rect x="1572" y="547" width="4" height="5" fill="#f8f3ed"/><rect x="1619" y="485" width="1" height="3" fill="#f8f3ed"/><rect x="1584" y="565" width="2" height="3" fill="#f8f3ed"/><rect x="1587" y="499" width="3" height="3" fill="#f8f3ed"/><rect x="1572" y="534" width="3" height="4" fill="#f8f3ed"/><rect x="1567" y="498" width="3" height="3" fill="#f8f3ed"/><rect x="1572" y="490" width="4" height="4" fill="#f8f3ed"/><rect x="1642" y="455" width="2" height="3" fill="#f8f3ed"/><rect x="1563" y="572" width="4" height="5" fill="#f8f3ed"/><rect x="1575" y="566" width="1" height="2" fill="#f8f3ed"/><rect x="1627" y="538" width="1" height="5" fill="#f8f3ed"/><rect x="1585" y="552" width="4" height="3" fill="#f8f3ed"/><rect x="1560" y="491" width="4" height="3" fill="#f8f3ed"/><rect x="1535" y="534" width="5" height="5" fill="#f8f3ed"/><rect x="1568" y="531" width="2" height="5" fill="#f8f3ed"/><rect x="1550" y="484" width="1" height="1" fill="#f8f3ed"/><rect x="1628" y="535" width="2" height="3" fill="#f8f3ed"/><rect x="1596" y="528" width="5" height="3" fill="#f8f3ed"/><rect x="1559" y="512" width="4" height="1" fill="#f8f3ed"/><rect x="1565" y="485" width="2" height="3" fill="#f8f3ed"/><rect x="1558" y="518" width="5" height="1" fill="#f8f3ed"/><rect x="1651" y="452" width="4" height="1" fill="#f8f3ed"/><rect x="1618" y="453" width="4" height="2" fill="#f8f3ed"/><rect x="1611" y="536" width="5" height="2" fill="#f8f3ed"/><rect x="1584" y="593" width="4" height="2" fill="#f8f3ed"/><rect x="1582" y="487" width="2" height="2" fill="#f8f3ed"/><rect x="1585" y="540" width="5" height="3" fill="#f8f3ed"/><rect x="1546" y="496" width="1" height="2" fill="#f8f3ed"/><rect x="1567" y="510" width="5" height="1" fill="#f8f3ed"/><rect x="1593" y="488" width="2" height="2" fill="#f8f3ed"/><rect x="1547" y="517" width="4" height="1" fill="#f8f3ed"/><rect x="1586" y="515" width="5" height="1" fill="#f8f3ed"/><rect x="1587" y="487" width="4" height="1" fill="#f8f3ed"/><rect x="1592" y="522" width="5" height="4" fill="#f8f3ed"/><rect x="1566" y="582" width="1" height="3" fill="#f8f3ed"/><rect x="1614" y="487" width="3" height="3" fill="#f8f3ed"/><rect x="1526" y="530" width="2" height="5" fill="#f8f3ed"/><rect x="1571" y="540" width="3" height="4" fill="#f8f3ed"/><rect x="1631" y="474" width="4" height="2" fill="#f8f3ed"/><rect x="1609" y="486" width="1" height="5" fill="#f8f3ed"/><rect x="1586" y="496" width="3" height="1" fill="#f8f3ed"/><rect x="1599" y="518" width="5" height="5" fill="#f8f3ed"/><rect x="1623" y="459" width="1" height="1" fill="#f8f3ed"/><rect x="1577" y="584" width="3" height="3" fill="#f8f3ed"/><rect x="1590" y="542" width="4" height="5" fill="#f8f3ed"/><rect x="1618" y="527" width="2" height="5" fill="#f8f3ed"/><rect x="1583" y="502" width="2" height="1" fill="#f8f3ed"/><rect x="1532" y="533" width="3" height="4" fill="#f8f3ed"/><rect x="1591" y="500" width="4" height="2" fill="#f8f3ed"/><rect x="1591" y="528" width="5" height="3" fill="#f8f3ed"/><rect x="1545" y="493" width="5" height="3" fill="#f8f3ed"/><rect x="1605" y="503" width="5" height="2" fill="#f8f3ed"/><rect x="1593" y="494" width="5" height="2" fill="#f8f3ed"/><rect x="1517" y="538" width="5" height="1" fill="#f8f3ed"/><rect x="1590" y="563" width="1" height="2" fill="#f8f3ed"/><rect x="1547" y="551" width="1" height="5" fill="#f8f3ed"/><rect x="1531" y="528" width="1" height="4" fill="#f8f3ed"/><rect x="1577" y="511" width="5" height="4" fill="#f8f3ed"/><rect x="1579" y="521" width="2" height="1" fill="#f8f3ed"/><rect x="1587" y="522" width="2" height="2" fill="#f8f3ed"/><rect x="1537" y="561" width="5" height="1" fill="#f8f3ed"/><rect x="1629" y="463" width="1" height="1" fill="#f8f3ed"/><rect x="1626" y="448" width="3" height="5" fill="#f8f3ed"/><rect x="1646" y="456" width="2" height="4" fill="#f8f3ed"/><rect x="1629" y="477" width="1" height="1" fill="#f8f3ed"/><rect x="1555" y="520" width="4" height="1" fill="#f8f3ed"/><rect x="1585" y="573" width="1" height="1" fill="#f8f3ed"/><rect x="1583" y="536" width="4" height="5" fill="#f8f3ed"/><rect x="1555" y="517" width="4" height="4" fill="#f8f3ed"/><rect x="1601" y="520" width="4" height="2" fill="#f8f3ed"/><rect x="1610" y="527" width="4" height="3" fill="#f8f3ed"/><rect x="1587" y="567" width="4" height="2" fill="#f8f3ed"/><rect x="1616" y="516" width="1" height="5" fill="#f8f3ed"/><rect x="1577" y="590" width="5" height="4" fill="#f8f3ed"/><rect x="1596" y="490" width="2" height="4" fill="#f8f3ed"/><rect x="1586" y="503" width="2" height="2" fill="#f8f3ed"/><rect x="1609" y="519" width="1" height="5" fill="#f8f3ed"/><rect x="1589" y="529" width="5" height="4" fill="#f8f3ed"/><rect x="1607" y="500" width="2" height="2" fill="#f8f3ed"/><rect x="1548" y="509" width="1" height="3" fill="#f8f3ed"/><rect x="1509" y="532" width="4" height="5" fill="#f8f3ed"/><rect x="1561" y="535" width="1" height="2" fill="#f8f3ed"/><rect x="1550" y="565" width="5" height="4" fill="#f8f3ed"/>
<polygon points="1611,496 1624,497 1624,511 1612,510" fill="#f8f3ed"/>
<polygon points="1540,512 1550,510 1552,522 1541,523" fill="#f8f3ed"/>
<polygon points="1560,525 1568,524 1569,540 1561,538" fill="#f8f3ed"/>
<polygon points="1520,540 1530,538 1531,548 1522,549" fill="#f8f3ed"/>
<polygon points="1580,500 1588,498 1590,510 1581,511" fill="#f8f3ed"/>
<polygon points="1575,560 1582,558 1584,572 1576,570" fill="#f8f3ed"/>
<polygon points="1556,495 1563,494 1564,503 1557,504" fill="#f8f3ed"/>
<polygon points="1598,520 1606,519 1606,530 1599,531" fill="#f8f3ed"/>
<polygon points="1701,381 1708,377 1714,372 1719,369 1722,374 1727,378 1728,384 1723,384 1718,386 1714,390 1711,393 1708,389 1703,386" fill="#dfe363"/>
<polygon points="1666,388 1670,386 1673,388 1671,392 1668,396 1666,393" fill="#dfe363"/>
<polygon points="1678,387 1681,384.5 1683.5,390 1678,390" fill="#dfe363"/>
<polygon points="1663,402 1666,402 1666,404 1663,404" fill="#dfe363"/>
<polygon points="1663,411 1667,411 1668,414 1664,414" fill="#dfe363"/>
<polygon points="1665,422 1668,420 1669,424" fill="#dfe363"/>
<polygon points="1510,547.5 1520,555 1530,562.5 1535,580 1545,576.3 1560,577.5 1567.5,590 1567.5,610 1572,622 1571,630 1560,640 1554.5,649 1540,660 1527,668 1510,680 1497,693 1510,700 1522,706 1519,725 1512,745 1506,756 1490,757 1472.5,750 1462.5,745 1445,737.5 1432,746 1425,757 1421.5,757 1421,735.5 1411.4,727.5 1401.9,721.2 1405,710 1411.4,703.7 1421,695.7 1427.3,684.6 1436.9,680.6 1443.2,677.4 1445,665 1447.5,660 1452.5,652.5 1453.75,640 1457.5,632.5 1467.5,622.5 1480,615 1495,607.5 1500,590 1492.5,572.5 1490,562.5 1495,555 1505,550" fill="#e69800"/>
<rect x="1446" y="691" width="2" height="2" fill="#f8f3ed"/><rect x="1515" y="730" width="2" height="2" fill="#f8f3ed"/><rect x="1414" y="725" width="3" height="1" fill="#f8f3ed"/><rect x="1475" y="723" width="1" height="3" fill="#f8f3ed"/><rect x="1551" y="622" width="2" height="4" fill="#f8f3ed"/><rect x="1513" y="620" width="3" height="4" fill="#f8f3ed"/><rect x="1496" y="704" width="2" height="4" fill="#f8f3ed"/><rect x="1517" y="640" width="2" height="3" fill="#f8f3ed"/><rect x="1505" y="630" width="2" height="4" fill="#f8f3ed"/><rect x="1495" y="666" width="2" height="3" fill="#f8f3ed"/><rect x="1509" y="645" width="1" height="4" fill="#f8f3ed"/><rect x="1426" y="716" width="4" height="3" fill="#f8f3ed"/><rect x="1539" y="590" width="3" height="2" fill="#f8f3ed"/><rect x="1501" y="667" width="2" height="3" fill="#f8f3ed"/><rect x="1435" y="712" width="1" height="2" fill="#f8f3ed"/><rect x="1503" y="717" width="1" height="4" fill="#f8f3ed"/><rect x="1491" y="726" width="1" height="1" fill="#f8f3ed"/><rect x="1497" y="659" width="4" height="2" fill="#f8f3ed"/><rect x="1516" y="610" width="1" height="4" fill="#f8f3ed"/><rect x="1487" y="738" width="2" height="3" fill="#f8f3ed"/><rect x="1474" y="720" width="2" height="3" fill="#f8f3ed"/><rect x="1475" y="682" width="4" height="1" fill="#f8f3ed"/><rect x="1456" y="644" width="1" height="1" fill="#f8f3ed"/><rect x="1534" y="587" width="4" height="4" fill="#f8f3ed"/><rect x="1542" y="593" width="3" height="4" fill="#f8f3ed"/><rect x="1501" y="670" width="4" height="1" fill="#f8f3ed"/><rect x="1430" y="733" width="2" height="1" fill="#f8f3ed"/><rect x="1518" y="566" width="3" height="1" fill="#f8f3ed"/><rect x="1461" y="715" width="2" height="1" fill="#f8f3ed"/><rect x="1558" y="640" width="4" height="1" fill="#f8f3ed"/><rect x="1493" y="718" width="4" height="3" fill="#f8f3ed"/><rect x="1560" y="582" width="1" height="1" fill="#f8f3ed"/><rect x="1509" y="581" width="3" height="1" fill="#f8f3ed"/><rect x="1447" y="712" width="4" height="3" fill="#f8f3ed"/><rect x="1561" y="599" width="3" height="4" fill="#f8f3ed"/><rect x="1429" y="723" width="4" height="4" fill="#f8f3ed"/><rect x="1499" y="555" width="2" height="2" fill="#f8f3ed"/><rect x="1454" y="733" width="4" height="1" fill="#f8f3ed"/><rect x="1438" y="704" width="4" height="1" fill="#f8f3ed"/><rect x="1549" y="578" width="2" height="1" fill="#f8f3ed"/><rect x="1526" y="637" width="3" height="2" fill="#f8f3ed"/><rect x="1485" y="675" width="2" height="3" fill="#f8f3ed"/><rect x="1478" y="707" width="3" height="2" fill="#f8f3ed"/><rect x="1505" y="657" width="4" height="2" fill="#f8f3ed"/><rect x="1502" y="601" width="2" height="2" fill="#f8f3ed"/><rect x="1506" y="655" width="4" height="3" fill="#f8f3ed"/><rect x="1467" y="718" width="4" height="4" fill="#f8f3ed"/><rect x="1413" y="727" width="3" height="3" fill="#f8f3ed"/><rect x="1501" y="708" width="4" height="3" fill="#f8f3ed"/><rect x="1472" y="666" width="1" height="1" fill="#f8f3ed"/><rect x="1492" y="755" width="2" height="4" fill="#f8f3ed"/><rect x="1561" y="609" width="2" height="1" fill="#f8f3ed"/><rect x="1509" y="613" width="1" height="2" fill="#f8f3ed"/><rect x="1521" y="558" width="2" height="4" fill="#f8f3ed"/><rect x="1498" y="733" width="4" height="1" fill="#f8f3ed"/><rect x="1508" y="656" width="2" height="1" fill="#f8f3ed"/><rect x="1522" y="637" width="4" height="3" fill="#f8f3ed"/><rect x="1500" y="664" width="3" height="3" fill="#f8f3ed"/><rect x="1528" y="592" width="1" height="2" fill="#f8f3ed"/><rect x="1530" y="579" width="2" height="3" fill="#f8f3ed"/><rect x="1504" y="557" width="4" height="2" fill="#f8f3ed"/><rect x="1523" y="596" width="3" height="3" fill="#f8f3ed"/><rect x="1423" y="697" width="4" height="1" fill="#f8f3ed"/><rect x="1520" y="709" width="3" height="4" fill="#f8f3ed"/><rect x="1475" y="639" width="3" height="3" fill="#f8f3ed"/><rect x="1470" y="630" width="4" height="4" fill="#f8f3ed"/><rect x="1451" y="664" width="4" height="2" fill="#f8f3ed"/><rect x="1497" y="712" width="4" height="1" fill="#f8f3ed"/><rect x="1493" y="705" width="4" height="2" fill="#f8f3ed"/><rect x="1487" y="736" width="1" height="3" fill="#f8f3ed"/>
<rect x="1495" y="718" width="3" height="2" fill="#b5e0aa"/><rect x="1527" y="694" width="1" height="1" fill="#b5e0aa"/><rect x="1517" y="686" width="2" height="3" fill="#b5e0aa"/><rect x="1494" y="734" width="1" height="1" fill="#b5e0aa"/><rect x="1521" y="700" width="2" height="2" fill="#b5e0aa"/><rect x="1483" y="740" width="1" height="1" fill="#b5e0aa"/><rect x="1551" y="656" width="3" height="3" fill="#b5e0aa"/><rect x="1507" y="751" width="3" height="2" fill="#b5e0aa"/><rect x="1509" y="692" width="2" height="1" fill="#b5e0aa"/><rect x="1556" y="650" width="3" height="2" fill="#b5e0aa"/><rect x="1532" y="670" width="3" height="1" fill="#b5e0aa"/><rect x="1512" y="706" width="2" height="1" fill="#b5e0aa"/><rect x="1514" y="717" width="3" height="3" fill="#b5e0aa"/><rect x="1560" y="651" width="1" height="2" fill="#b5e0aa"/><rect x="1511" y="744" width="1" height="3" fill="#b5e0aa"/><rect x="1493" y="713" width="3" height="2" fill="#b5e0aa"/><rect x="1519" y="704" width="2" height="2" fill="#b5e0aa"/><rect x="1493" y="722" width="2" height="3" fill="#b5e0aa"/><rect x="1491" y="721" width="2" height="3" fill="#b5e0aa"/><rect x="1497" y="712" width="1" height="1" fill="#b5e0aa"/><rect x="1510" y="693" width="1" height="3" fill="#b5e0aa"/><rect x="1514" y="720" width="3" height="1" fill="#b5e0aa"/><rect x="1501" y="752" width="3" height="2" fill="#b5e0aa"/><rect x="1548" y="661" width="1" height="2" fill="#b5e0aa"/><rect x="1534" y="671" width="3" height="2" fill="#b5e0aa"/><rect x="1507" y="709" width="3" height="1" fill="#b5e0aa"/><rect x="1486" y="733" width="1" height="2" fill="#b5e0aa"/><rect x="1523" y="695" width="2" height="1" fill="#b5e0aa"/><rect x="1524" y="692" width="3" height="3" fill="#b5e0aa"/><rect x="1502" y="746" width="2" height="2" fill="#b5e0aa"/><rect x="1504" y="751" width="2" height="3" fill="#b5e0aa"/><rect x="1503" y="737" width="1" height="3" fill="#b5e0aa"/><rect x="1517" y="689" width="3" height="2" fill="#b5e0aa"/><rect x="1512" y="710" width="3" height="2" fill="#b5e0aa"/><rect x="1544" y="661" width="1" height="3" fill="#b5e0aa"/><rect x="1493" y="754" width="1" height="2" fill="#b5e0aa"/><rect x="1495" y="702" width="2" height="3" fill="#b5e0aa"/><rect x="1502" y="703" width="3" height="2" fill="#b5e0aa"/><rect x="1549" y="654" width="1" height="2" fill="#b5e0aa"/><rect x="1507" y="710" width="1" height="3" fill="#b5e0aa"/><rect x="1517" y="718" width="3" height="3" fill="#b5e0aa"/><rect x="1500" y="694" width="3" height="2" fill="#b5e0aa"/><rect x="1514" y="691" width="2" height="1" fill="#b5e0aa"/><rect x="1500" y="729" width="3" height="3" fill="#b5e0aa"/><rect x="1502" y="706" width="2" height="3" fill="#b5e0aa"/><rect x="1499" y="698" width="2" height="3" fill="#b5e0aa"/><rect x="1522" y="693" width="1" height="3" fill="#b5e0aa"/><rect x="1555" y="658" width="2" height="2" fill="#b5e0aa"/><rect x="1484" y="739" width="1" height="1" fill="#b5e0aa"/><rect x="1563" y="647" width="2" height="2" fill="#b5e0aa"/><rect x="1512" y="701" width="2" height="3" fill="#b5e0aa"/><rect x="1510" y="738" width="3" height="2" fill="#b5e0aa"/><rect x="1492" y="728" width="2" height="1" fill="#b5e0aa"/><rect x="1483" y="744" width="3" height="3" fill="#b5e0aa"/><rect x="1491" y="742" width="3" height="3" fill="#b5e0aa"/><rect x="1514" y="711" width="3" height="2" fill="#b5e0aa"/><rect x="1520" y="712" width="3" height="3" fill="#b5e0aa"/><rect x="1533" y="686" width="1" height="1" fill="#b5e0aa"/><rect x="1543" y="668" width="1" height="2" fill="#b5e0aa"/><rect x="1517" y="727" width="1" height="3" fill="#b5e0aa"/>
<polygon points="1459,672 1475,669 1489,676 1487,688 1470,690 1460,683" fill="#e9ec9a"/>
<polygon points="1495.6,606.1 1508.4,598.2 1522.7,601.3 1524.3,612.5 1519.5,622 1510,623.6 1500.4,620.4 1495.6,614" fill="#f8f3ed"/>
<polygon points="1442.5,712.5 1457.5,710 1465,715 1460,727.5 1445,730" fill="#f8f3ed"/>
<polygon points="1494.8,639.5 1503.6,638.7 1505.2,645.9 1500.4,649 1494.8,646.6" fill="#f8f3ed"/>
<polygon points="1510,652.2 1517.9,651.4 1521,658.6 1517.9,663.3 1512.3,660.2" fill="#f8f3ed"/>
<polygon points="1507,645 1514,638 1521,636 1518,643 1510,648" fill="#f8f3ed"/>
<polygon points="1420,710 1430,711 1429,720 1421,719" fill="#f8f3ed"/>
<polygon points="1497,578 1503,576 1505,588 1499,590" fill="#f8f3ed"/>
<polygon points="1536,590 1541,588 1542,595 1537,596" fill="#f8f3ed"/>
<polygon points="1506,560 1511,558 1513,566 1507,568" fill="#f8f3ed"/>
<polygon points="1500,578 1507,575 1514,590 1516,605 1508,606 1502,596" fill="#f8f3ed"/>
<polygon points="1516,570 1522,568 1523,578 1517,579" fill="#f8f3ed"/>
<polygon points="1484,622 1490,620 1491,627 1485,628" fill="#f8f3ed"/>
<polygon points="1462,640 1468,638 1469,645 1463,646" fill="#f8f3ed"/>
<polygon points="1450,668 1456,667 1457,673 1451,674" fill="#f8f3ed"/>
<polyline points="1548.6,468 1553,469 1558,473 1563,478 1567.7,481.8" fill="none" stroke="#3d8fa6" stroke-width="4" stroke-linecap="round"/>
<polyline points="1405.5,583.6 1413.6,583.6 1417.5,590 1427.5,597.5 1440,605 1447.5,612.5 1455,627.5 1453.75,640 1452.5,652.5 1447.5,660 1445,665 1443.2,677.4 1436.9,680.6 1427.3,684.6 1421,695.7 1411.4,703.7 1405,710 1401.9,721.2 1411.4,727.5 1421,735.5 1421.8,757.8 1430.5,758.6 1452.8,743.5 1468.7,748.2 1480,754.6 1505,756 1520,752.5 1532.5,742.5 1555,738.8" fill="none" stroke="#b4b4b4" stroke-width="1.6"/>
<polyline points="1190.5,686.9 1191.9,692.2 1194,697.3 1188.2,701.9 1184.1,702.3 1180.2,703.3 1176.6,705.4 1172.6,703.5 1168.4,703.7 1164.3,702.6 1159.9,705 1155.9,703 1149,703 1147.4,707.7 1145.5,712.3 1144.7,716.5 1146.7,720.3 1143.5,722.8 1141,726 1136.3,723.6 1130.7,724.9 1126,722.6 1121.3,722.7 1116.7,722.6 1117.5,726.8 1116.6,731.1 1116.7,735.3 1112,741 1108.1,739.1 1104,737.6 1099.3,740.8 1093.7,741 1092.1,745.5 1089,749 1084.8,753.1 1079.8,756 1075.6,757.3 1073,760.7 1068.7,760.8 1064.9,763.6 1060.3,762.5 1056.6,765.5 1052.2,765.3 1048.6,762.3 1043.8,760.9 1040.7,757.2 1037,761.9 1031.4,764.1 1027.5,762.6 1023.3,764.5 1019.3,764.2 1015.3,763 1010,763.9 1006,767.6 1000.9,768.8 997.2,772.8 992.3,774.5 989.7,778.7 990,783.7 986.5,785.9 982.7,787.8 980.1,791.4 976.1,792.9 977.3,799.8 974.2,803.9 973.8,809 973.2,813.6 973.8,818.3 969.4,820.3 966.1,823.5 963.5,827.5" fill="none" stroke="#b4b4b4" stroke-width="1.6"/>
<polyline points="1577,94 1568,106 1550,118.4 1506.8,137.7 1485,149.5 1447.7,187.7 1421.6,198.6 1406.8,213.9" fill="none" stroke="#aaa3c6" stroke-width="2"/>
<polyline points="963,235.5 966,234.5 970,240 975,241.5 980,245 986,249" fill="none" stroke="#aaa3c6" stroke-width="2"/>
<polyline points="1903,346 1886.5,343.5 1865,340.7 1856.5,338.6 1842.5,348.8 1823,352.3 1807.3,357.6 1800,356 1780.5,371 1777,377.7 1779.3,389 1785,393.6 1771.4,402.7 1769,411.8 1760,417.5 1763.4,423.2 1755.5,430 1753.2,441.4 1744,457.3 1730.5,473.2 1714.5,484.5 1696.4,486.8 1691.8,493.6 1686.3,507.3 1683.6,521 1678,526.4 1674,553.6 1661.8,559 1656.3,567.3 1653.6,583.6 1642.7,602.7 1640,619 1618.2,638.2 1610,654.5 1596.3,665.4 1590.9,681.8 1588.2,698.2 1585.4,720 1580,722 1558.2,732.8 1557.5,740 1556,755 1561,765 1552.5,782.5 1555,805 1552.5,830 1555,853" fill="none" stroke="#aaa3c6" stroke-width="2"/>
<polyline points="1868.9,93.5 1861.8,111 1832,174.5 1824.9,192 1805.5,230.8 1768.5,296 1768.5,308.3 1772,333 1756.2,332.3 1738.6,327.7 1726.3,329.4 1714,340 1701.6,354" fill="none" stroke="#cdc8c0" stroke-width="8" stroke-dasharray="1 10"/>
<polygon points="1896,208 1903,206 1903,224 1898,222" fill="#e4dfc4"/>
<polyline points="963,266.4 970,266.4 977,270.5 986,269.5" fill="none" stroke="#efb54c" stroke-width="3.2" stroke-linejoin="round"/>
<polyline points="1406.8,279.8 1431.8,273 1452.3,224 1468.2,190 1468.2,187.7 1500,149.5 1527.3,134.3 1551,121.8" fill="none" stroke="#efb54c" stroke-width="3.2" stroke-linejoin="round"/>
<polyline points="1551,121.8 1555.7,126.4 1554.5,146.8 1550,169.5 1550,196.8 1556.8,240 1552.3,271.8 1552.3,286.8 1561.8,296.3 1598,300 1620.8,305.8 1643.6,319 1666.5,321 1708.3,323 1719.8,328.6 1726.3,329.4" fill="none" stroke="#efb54c" stroke-width="3.2" stroke-linejoin="round"/>
<polyline points="1551,121.8 1563.6,131 1575,141 1579.5,140 1584,134.3 1634,143.4 1664.6,150 1691,163.2 1777.3,183.3 1798.5,183.3 1826.6,193.9 1886.5,206.2 1903,208" fill="none" stroke="#efb54c" stroke-width="3.2" stroke-linejoin="round"/>
<polyline points="1868.9,93.5 1861.8,111 1832,174.5 1824.9,192 1805.5,230.8 1768.5,296 1768.5,308.3 1772,333 1756.2,332.3 1738.6,327.7 1726.3,329.4 1714,340 1701.6,354" fill="none" stroke="#efb54c" stroke-width="3.2" stroke-linejoin="round"/>
<polyline points="1703,357.3 1721.4,334.5 1732.7,330" fill="none" stroke="#efb54c" stroke-width="3.2" stroke-linejoin="round"/>
<polyline points="1721,322.4 1705.5,330 1671.4,349.3 1635,382.3 1626,386.8" fill="none" stroke="#efb54c" stroke-width="3.2" stroke-linejoin="round"/>
<polyline points="1510.4,272.7 1529.4,277.2 1542.7,273.4 1550.4,275.3" fill="none" stroke="#efb54c" stroke-width="3.2" stroke-linejoin="round"/>
<polyline points="1432.7,548.2 1447.7,540 1458.6,545 1490,546.8" fill="none" stroke="#efb54c" stroke-width="3.2" stroke-linejoin="round"/>
<polyline points="1406.8,561.8 1413.6,559 1417.7,548.2" fill="none" stroke="#efb54c" stroke-width="3.2" stroke-linejoin="round"/>
<polyline points="1406.8,624.5 1432.7,615 1438.2,606.8" fill="none" stroke="#efb54c" stroke-width="3.2" stroke-linejoin="round"/>
<polyline points="1535.4,462.9 1541.8,468.3 1548.3,469.4 1563.4,481.3 1561.3,485.6 1554.8,492 1533.2,511.5 1528.9,518 1511.6,535.3 1503,544 1498.6,550.4 1503,559" fill="none" stroke="#efb54c" stroke-width="3.2" stroke-linejoin="round"/>
<polyline points="1563.4,481.3 1574.2,485.6 1591.5,483.4 1598,477 1606.6,461.8 1609.9,453.2" fill="none" stroke="#efb54c" stroke-width="3.2" stroke-linejoin="round"/>
<polyline points="1421,736 1404,770 1404,792.5 1400,797.5" fill="none" stroke="#efb54c" stroke-width="3.2" stroke-linejoin="round"/>
<polyline points="1400,797.5 1374.8,839 1361,851.7" fill="none" stroke="#efb54c" stroke-width="3.2" stroke-linejoin="round"/>
<polyline points="1184.7,743.4 1190.5,751.4 1211.2,749.1 1228.5,751.4 1250.4,760.7 1271.1,776.8 1273.4,786 1271.1,791.8 1280.3,795.2 1291.9,804.5 1326.4,779.1 1331,760.7 1361,726 1351.8,700.7 1358.7,700.7 1368,689.2 1372,684" fill="none" stroke="#efb54c" stroke-width="3.2" stroke-linejoin="round"/>
<polyline points="1291.9,804.5 1287.3,807.9 1285,818.3 1271.1,832.1 1238.9,851.7" fill="none" stroke="#efb54c" stroke-width="3.2" stroke-linejoin="round"/>
<polyline points="1361,726 1369,735.3 1370.2,767.6 1400,765.3 1407.5,763.8 1445,759.5 1462.5,762.5 1483.8,762.5" fill="none" stroke="#efb54c" stroke-width="3.2" stroke-linejoin="round"/>
<polyline points="963,266.4 970,266.4 977,270.5 986,269.5" fill="none" stroke="#fdd88a" stroke-width="1.2" stroke-linejoin="round"/>
<polyline points="1406.8,279.8 1431.8,273 1452.3,224 1468.2,190 1468.2,187.7 1500,149.5 1527.3,134.3 1551,121.8" fill="none" stroke="#fdd88a" stroke-width="1.2" stroke-linejoin="round"/>
<polyline points="1551,121.8 1555.7,126.4 1554.5,146.8 1550,169.5 1550,196.8 1556.8,240 1552.3,271.8 1552.3,286.8 1561.8,296.3 1598,300 1620.8,305.8 1643.6,319 1666.5,321 1708.3,323 1719.8,328.6 1726.3,329.4" fill="none" stroke="#fdd88a" stroke-width="1.2" stroke-linejoin="round"/>
<polyline points="1551,121.8 1563.6,131 1575,141 1579.5,140 1584,134.3 1634,143.4 1664.6,150 1691,163.2 1777.3,183.3 1798.5,183.3 1826.6,193.9 1886.5,206.2 1903,208" fill="none" stroke="#fdd88a" stroke-width="1.2" stroke-linejoin="round"/>
<polyline points="1868.9,93.5 1861.8,111 1832,174.5 1824.9,192 1805.5,230.8 1768.5,296 1768.5,308.3 1772,333 1756.2,332.3 1738.6,327.7 1726.3,329.4 1714,340 1701.6,354" fill="none" stroke="#fdd88a" stroke-width="1.2" stroke-linejoin="round"/>
<polyline points="1703,357.3 1721.4,334.5 1732.7,330" fill="none" stroke="#fdd88a" stroke-width="1.2" stroke-linejoin="round"/>
<polyline points="1721,322.4 1705.5,330 1671.4,349.3 1635,382.3 1626,386.8" fill="none" stroke="#fdd88a" stroke-width="1.2" stroke-linejoin="round"/>
<polyline points="1510.4,272.7 1529.4,277.2 1542.7,273.4 1550.4,275.3" fill="none" stroke="#fdd88a" stroke-width="1.2" stroke-linejoin="round"/>
<polyline points="1432.7,548.2 1447.7,540 1458.6,545 1490,546.8" fill="none" stroke="#fdd88a" stroke-width="1.2" stroke-linejoin="round"/>
<polyline points="1406.8,561.8 1413.6,559 1417.7,548.2" fill="none" stroke="#fdd88a" stroke-width="1.2" stroke-linejoin="round"/>
<polyline points="1406.8,624.5 1432.7,615 1438.2,606.8" fill="none" stroke="#fdd88a" stroke-width="1.2" stroke-linejoin="round"/>
<polyline points="1535.4,462.9 1541.8,468.3 1548.3,469.4 1563.4,481.3 1561.3,485.6 1554.8,492 1533.2,511.5 1528.9,518 1511.6,535.3 1503,544 1498.6,550.4 1503,559" fill="none" stroke="#fdd88a" stroke-width="1.2" stroke-linejoin="round"/>
<polyline points="1563.4,481.3 1574.2,485.6 1591.5,483.4 1598,477 1606.6,461.8 1609.9,453.2" fill="none" stroke="#fdd88a" stroke-width="1.2" stroke-linejoin="round"/>
<polyline points="1421,736 1404,770 1404,792.5 1400,797.5" fill="none" stroke="#fdd88a" stroke-width="1.2" stroke-linejoin="round"/>
<polyline points="1400,797.5 1374.8,839 1361,851.7" fill="none" stroke="#fdd88a" stroke-width="1.2" stroke-linejoin="round"/>
<polyline points="1184.7,743.4 1190.5,751.4 1211.2,749.1 1228.5,751.4 1250.4,760.7 1271.1,776.8 1273.4,786 1271.1,791.8 1280.3,795.2 1291.9,804.5 1326.4,779.1 1331,760.7 1361,726 1351.8,700.7 1358.7,700.7 1368,689.2 1372,684" fill="none" stroke="#fdd88a" stroke-width="1.2" stroke-linejoin="round"/>
<polyline points="1291.9,804.5 1287.3,807.9 1285,818.3 1271.1,832.1 1238.9,851.7" fill="none" stroke="#fdd88a" stroke-width="1.2" stroke-linejoin="round"/>
<polyline points="1361,726 1369,735.3 1370.2,767.6 1400,765.3 1407.5,763.8 1445,759.5 1462.5,762.5 1483.8,762.5" fill="none" stroke="#fdd88a" stroke-width="1.2" stroke-linejoin="round"/>
<text x="1401.3" y="191.2" font-size="24" font-style="italic" fill="#111" stroke="#111" stroke-width="0.5">to</text>
<text x="1769.5" y="163.4" font-size="21" fill="#333" stroke="#fff" stroke-width="3" paint-order="stroke" stroke-linejoin="round" textLength="82" lengthAdjust="spacingAndGlyphs">La Guajira</text>
<rect x="963" y="852" width="939" height="22" fill="#fff"/>
<text x="971" y="868.3" font-size="17.6" fill="#323232" textLength="674" lengthAdjust="spacingAndGlyphs">Grupo Ingeolan C.A., PNNC, Esri, TomTom, Garmin, FAO, METI/NASA, USGS | IGAC</text>
<text x="1895" y="868.3" font-size="17.6" fill="#323232" text-anchor="end">Powered by Esri</text>
</svg>


<!-- POPUP -->
<div class="abs" id="popup" style="left:986px;top:117px;width:420px;height:570px;background:#fff;box-shadow:0 1.5px 4.5px rgba(0,0,0,.78)"></div>
<div class="abs" style="left:986px;top:165px;width:420px;height:1px;background:#dfdfdf"></div>
<div class="abs" style="left:1293px;top:117px;width:1px;height:48px;background:#dfdfdf"></div>
<div class="abs" style="left:986px;top:238px;width:420px;height:1px;background:#dfdfdf"></div>
<div class="abs" style="left:986px;top:287px;width:420px;height:1px;background:#dfdfdf"></div>
<div class="abs" style="left:1014px;top:288px;width:340px;height:21px;background:#fafafa"></div>
<div class="abs" style="left:1014px;top:309px;width:340px;height:108px;background:#ececec"></div>
<div class="abs" style="left:1014px;top:417px;width:340px;height:63px;background:#fafafa"></div>
<div class="abs" style="left:1014px;top:480px;width:340px;height:41px;background:#ececec"></div>
<div class="abs" style="left:1014px;top:521px;width:340px;height:63px;background:#fafafa"></div>
<div class="abs" style="left:1014px;top:584px;width:340px;height:40px;background:#ececec"></div>
<div class="abs" style="left:1014px;top:624px;width:340px;height:41px;background:#fafafa"></div>
<div class="abs" style="left:1182px;top:288px;width:4px;height:377px;background:rgba(0,0,0,.05)"></div>
<div class="abs" style="left:1383px;top:288px;width:22px;height:398px;background:#fafafa"></div>
<div class="abs" style="left:1388px;top:423px;width:13px;height:237px;background:#8c8c8c;border-radius:6.5px"></div>
<svg class="abs" style="left:986px;top:117px" width="420" height="570" viewBox="986 117 420 570">
  <g fill="none" stroke="#6a6a6a" stroke-width="1.4" stroke-linecap="square">
    <polyline points="1012.8,135.2 1006.2,141.2 1012.8,147.2"/>
    <polyline points="1055.3,135.2 1061.9,141.2 1055.3,147.2"/>
    <line x1="1315.5" y1="132.7" x2="1328.5" y2="132.7"/>
    <line x1="1315.5" y1="141.8" x2="1328.5" y2="141.8"/>
    <line x1="1315.5" y1="150.7" x2="1328.5" y2="150.7"/>
    <rect x="1308" y="130.6" width="3.6" height="3.6" stroke-width="1.2"/>
    <rect x="1308" y="139.8" width="3.6" height="3.6" stroke-width="1.2"/>
    <rect x="1308" y="148.8" width="3.6" height="3.6" stroke-width="1.2"/>
    <line x1="1365" y1="197" x2="1375.6" y2="207.4"/>
    <line x1="1375.6" y1="197" x2="1365" y2="207.4"/>
    <circle cx="1007" cy="261" r="6.8" stroke-width="1.3"/>
    <line x1="1003.6" y1="261" x2="1010.4" y2="261" stroke-width="1.2" stroke-linecap="butt"/>
    <line x1="1007" y1="257.6" x2="1007" y2="264.4" stroke-width="1.2" stroke-linecap="butt"/>
    <line x1="1013.5" y1="267.8" x2="1019.8" y2="273.6" stroke-width="3" stroke-linecap="round"/>
    <line x1="1049" y1="263.6" x2="1068" y2="263.6" stroke-width="1.3" stroke-linecap="butt"/>
    <line x1="1058.5" y1="254" x2="1058.5" y2="273.2" stroke-width="1.3" stroke-linecap="butt"/>
    <polyline points="1052,260.6 1049,263.6 1052,266.6" stroke-width="1.3"/>
    <polyline points="1065,260.6 1068,263.6 1065,266.6" stroke-width="1.3"/>
    <polyline points="1055.5,257 1058.5,254 1061.5,257" stroke-width="1.3"/>
    <polyline points="1055.5,270.2 1058.5,273.2 1061.5,270.2" stroke-width="1.3"/>
  </g>
  <line x1="1014.3" y1="270.5" x2="1018.8" y2="274.6" stroke="#fff" stroke-width="1" stroke-linecap="round"/>
  <text x="1343.5" y="145.9" font-size="18.4" fill="#6a6a6a">1 de 2</text>
  <polygon points="1394.5,295 1401.8,305 1387.2,305" fill="#8a8a8a" stroke="#8a8a8a" stroke-width="0.8" stroke-linejoin="round"/>
  <polygon points="1387.2,671.3 1401.8,671.3 1394.5,681.3" fill="#8a8a8a" stroke="#8a8a8a" stroke-width="0.8" stroke-linejoin="round"/>
  <clipPath id="tclip"><rect x="986" y="288" width="420" height="400"/></clipPath>
  <g font-size="18.2" fill="#323232" clip-path="url(#tclip)">
    <text x="1026.5" y="293.3">le</text>
    <text x="1026.6" y="334.1">GlobalID</text>
    <text x="1198.5" y="334.1">{4886B252-</text>
    <text x="1198.5" y="356.8">00EA-443A-</text>
    <text x="1198.5" y="379.1">B7ED-</text>
    <text x="1198.5" y="401.4">08AA1F6A05B0}</text>
    <text x="1026.6" y="442.6">espacio_de_nom</text>
    <text x="1026.6" y="464.8">bres</text>
    <text x="1198.5" y="442.6">No aplica</text>
    <text x="1026.6" y="504.8">local_id</text>
    <text x="1198.5" y="504.8">1207</text>
    <text x="1026.6" y="545.9">Tipo_APPA</text>
    <text x="1198.5" y="545.9">APPA_Condicion</text>
    <text x="1198.5" y="568">ada</text>
    <text x="1026.6" y="608.7">SHAPE__Area</text>
    <text x="1198.5" y="608.7">1693821.224536</text>
    <text x="1026.6" y="648.9">SHAPE__Length</text>
    <text x="1198.5" y="648.9">12592.434586</text>
  </g>
</svg>
<div class="abs" style="left:986px;top:287px;width:420px;height:1px;background:#dfdfdf"></div>

<!-- MAP TOOLBAR -->
<div class="abs" style="left:1833px;top:117px;width:48px;height:192px;background:#fff;border-radius:5px;box-shadow:0 2px 12px rgba(0,0,0,.17);overflow:hidden">
  <div style="position:absolute;left:0;top:0;width:48px;height:48px;background:#f3f3f3"></div>
</div>
<svg class="abs" style="left:1833px;top:117px" width="48" height="192" viewBox="1833 117 48 192">
  <g fill="none" stroke="#151515" stroke-width="1.5">
    <polyline points="1850.9,139.9 1857,133.8 1863.1,139.9"/>
    <polyline points="1850.9,149 1857,142.9 1863.1,149"/>
  </g>
  <g fill="none" stroke="#6e6e6e" stroke-width="1.4">
    <line x1="1854" y1="181" x2="1867" y2="181"/>
    <line x1="1854" y1="187" x2="1867" y2="187"/>
    <line x1="1854" y1="193" x2="1867" y2="193"/>
    <line x1="1854" y1="199" x2="1867" y2="199"/>
    <rect x="1847.3" y="179.3" width="3.4" height="3.4" stroke-width="1.1"/>
    <circle cx="1849" cy="187" r="1.8" stroke-width="1.1"/>
    <rect x="1847.3" y="191.3" width="3.4" height="3.4" stroke-width="1.1"/>
    <polygon points="1849,197 1851,200.3 1847,200.3" fill="#6e6e6e" stroke-width="0.8"/>
    <polygon points="1857,227 1868,233 1857,239 1846,233"/>
    <polyline points="1846,237.5 1857,243.5 1868,237.5"/>
    <polyline points="1846,241.8 1857,247.8 1868,241.8"/>
    <polyline points="1856.6,279.2 1850.2,285 1856.6,290.8"/>
    <polyline points="1865.8,279.2 1859.4,285 1865.8,290.8"/>
  </g>
</svg>

</body>
</html>
